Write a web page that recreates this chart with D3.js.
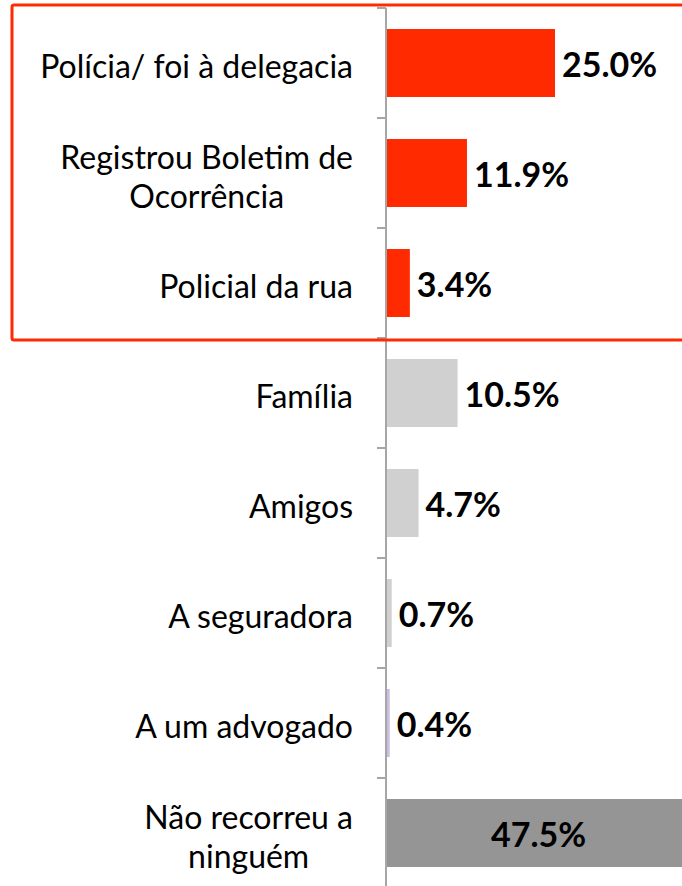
<!DOCTYPE html>
<html lang="pt">
<head>
<meta charset="utf-8" />
<title>A quem recorreu</title>
<script src="https://d3js.org/d3.v7.min.js"></script>
<style>
  body { margin: 0; background: #fff; }
  .cat { font-family: Lato, "Open Sans", sans-serif; font-size: 32px; fill: #000; }
  .val { font-family: Lato, "Open Sans", sans-serif; font-size: 34px; font-weight: bold; fill: #000; }
</style>
</head>
<body>
<script>

// data
var categories = [
  "Polícia/ foi à delegacia",
  "Registrou Boletim de|Ocorrência",
  "Policial da rua",
  "Família",
  "Amigos",
  "A seguradora",
  "A um advogado",
  "Não recorreu a|ninguém"
];
var values = [25.0, 11.9, 3.4, 10.5, 4.7, 0.7, 0.4, 47.5];
var colors = ["#ff2a00", "#ff2a00", "#ff2a00", "#d0d0d0", "#d0d0d0", "#d0d0d0", "#c9bde0", "#959595"];

var width = 682, height = 886;

var svg = d3.select("body").append("svg")
    .attr("width", width)
    .attr("height", height);

// scales
var y = d3.scaleBand()
    .domain(categories)
    .range([8, 888])
    .paddingInner(0.382)
    .paddingOuter(0.191);

var x = d3.scaleLinear()
    .domain([0, 50])
    .range([387, 387 + 336]);

var data = categories.map(function(c, i) {
  return { cat: c, value: values[i], color: colors[i] };
});

// bars
svg.selectAll(".bar")
    .data(data)
  .enter().append("rect")
    .attr("class", "bar")
    .attr("x", x(0))
    .attr("y", function(d) { return y(d.cat); })
    .attr("width", function(d) { return x(d.value) - x(0); })
    .attr("height", y.bandwidth())
    .attr("fill", function(d) { return d.color; });

// axis with ticks at band boundaries
var axis = svg.append("g").attr("stroke", "#a6a6a6").attr("stroke-width", 2);
axis.append("line")
    .attr("x1", x(0) - 1).attr("x2", x(0) - 1)
    .attr("y1", y.range()[0]).attr("y2", y.range()[1]);
var bounds = d3.range(categories.length + 1).map(function(i) { return y.range()[0] + i * y.step(); });
axis.selectAll(".tick")
    .data(bounds)
  .enter().append("line")
    .attr("x1", x(0) - 10).attr("x2", x(0) - 1)
    .attr("y1", function(d) { return d; })
    .attr("y2", function(d) { return d; });

// category labels: block right-aligned at 353, lines centred inside the block
var labelRight = 353;
svg.selectAll(".cat")
    .data(data)
  .enter().append("text")
    .attr("class", "cat")
    .attr("text-anchor", "middle")
    .each(function(d) {
      var lines = d.cat.split("|");
      var cy = y(d.cat) + y.bandwidth() / 2 + 4;
      var lh = 39;
      var t = d3.select(this);
      var spans = lines.map(function(l, k) {
        return t.append("tspan")
          .attr("y", cy + (k - (lines.length - 1) / 2) * lh)
          .attr("dy", "0.35em")
          .text(l);
      });
      var maxW = d3.max(spans, function(s) { return s.node().getComputedTextLength(); });
      spans.forEach(function(s) { s.attr("x", labelRight - maxW / 2); });
    });

// value labels
svg.selectAll(".val")
    .data(data)
  .enter().append("text")
    .attr("class", "val")
    .attr("x", function(d) { return d.value > 40 ? (x(0) + width) / 2 + 4 : x(d.value) + 7; })
    .attr("y", function(d) { return y(d.cat) + y.bandwidth() / 2 + 2; })
    .attr("dy", "0.35em")
    .attr("text-anchor", function(d) { return d.value > 40 ? "middle" : "start"; })
    .text(function(d) { return d3.format(".1f")(d.value) + "%"; });

// red highlight box around the police group
var boxTop = y.range()[0] - 3, boxBottom = y.range()[0] + 3 * y.step() + 2;
svg.append("rect")
    .attr("x", 12)
    .attr("y", boxTop)
    .attr("width", width + 20)
    .attr("height", boxBottom - boxTop)
    .attr("rx", 2)
    .attr("fill", "none")
    .attr("stroke", "#ff2a00")
    .attr("stroke-width", 3);

</script>
</body>
</html>
